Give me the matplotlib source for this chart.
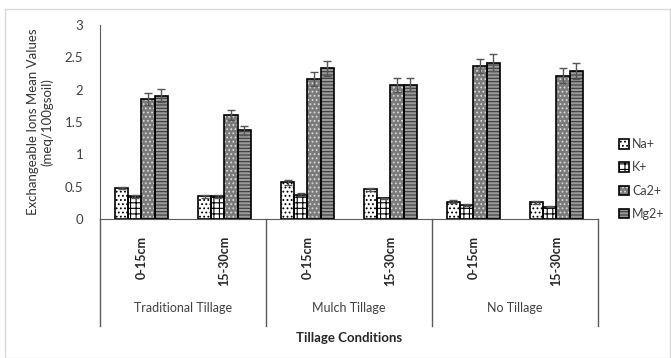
import numpy as np
import matplotlib.pyplot as plt
from matplotlib.patches import Patch, Rectangle
from matplotlib.legend_handler import HandlerTuple
import matplotlib.transforms as mtransforms

plt.rcParams['font.family'] = ['Lato', 'DejaVu Sans']
plt.rcParams['hatch.linewidth'] = 0.8

depths = ["0-15cm", "15-30cm", "0-15cm", "15-30cm", "0-15cm", "15-30cm"]
groups = ["Traditional Tillage", "Mulch Tillage", "No Tillage"]
ions = ["Na+", "K+", "Ca2+", "Mg2+"]

na = [0.48, 0.35, 0.57, 0.46, 0.27, 0.26]
k = [0.35, 0.35, 0.38, 0.32, 0.22, 0.19]
ca = [1.86, 1.61, 2.17, 2.07, 2.37, 2.22]
mg = [1.91, 1.37, 2.33, 2.08, 2.42, 2.29]

na_err = [0.02, 0.02, 0.04, 0.02, 0.02, 0.02]
k_err = [0.02, 0.02, 0.02, 0.01, 0.01, 0.01]
ca_err = [0.09, 0.08, 0.11, 0.11, 0.11, 0.11]
mg_err = [0.10, 0.07, 0.11, 0.10, 0.13, 0.12]

values = [na, k, ca, mg]
errors = [na_err, k_err, ca_err, mg_err]
faces = ["white", "white", "#7a7a7a", "#9a9a9a"]
hatch_cols = ["black", "black", "#d8d8d8", "#3a3a3a"]
hatches = ["....", "+++", "....", "-----"]

fig = plt.figure(figsize=(6.71, 3.58), dpi=100)
ax = fig.add_axes([0.149, 0.388, 0.742, 0.542])

# light chart-area frame
fig.patches.append(Rectangle((0.008, 0.0), 0.99, 0.975, transform=fig.transFigure,
                             fill=False, edgecolor="#d9d9d9", linewidth=1))

x = np.arange(len(depths))
w = 0.16
for i in range(4):
    pos = x + (i - 1.5) * w
    ax.bar(pos, values[i], w, color=faces[i], edgecolor=hatch_cols[i],
           hatch=hatches[i], linewidth=0, zorder=2)
    ax.bar(pos, values[i], w, fill=False, edgecolor="black", linewidth=1.2, zorder=3)
    ax.errorbar(pos, values[i], yerr=errors[i], fmt="none", ecolor="#555555",
                elinewidth=1, capsize=3, capthick=1, zorder=4)

ax.set_xlim(-0.5, 5.5)
ax.set_ylim(0, 3)
ax.set_yticks([0, 0.5, 1, 1.5, 2, 2.5, 3])
ax.set_yticklabels(["0", "0.5", "1", "1.5", "2", "2.5", "3"])
ax.tick_params(axis="y", length=0, pad=12, labelsize=9.5, labelcolor="#404040")
ax.set_xticks(x)
ax.set_xticklabels(depths, rotation=90, fontsize=9, fontweight="bold", color="#262626")
ax.tick_params(axis="x", length=0, pad=12)

for s in ["top", "right"]:
    ax.spines[s].set_visible(False)
ax.spines["left"].set_color("#595959")
ax.spines["bottom"].set_color("#595959")

trans = mtransforms.blended_transform_factory(ax.transData, ax.transAxes)
for xd in [-0.5, 1.5, 3.5, 5.5]:
    ax.plot([xd, xd], [0, -0.552], transform=trans, color="#595959",
            linewidth=1, clip_on=False)
for j, g in enumerate(groups):
    ax.text(2 * j + 0.5, -0.459, g, transform=trans, ha="center", va="center",
            fontsize=9, color="#404040")

ax.text(0.5, -0.613, "Tillage Conditions", transform=ax.transAxes, ha="center",
        va="center", fontsize=9.5, fontweight="bold", color="#262626")
ax.set_ylabel("Exchangeable Ions Mean Values\n(meq/100gsoil)", fontsize=9.5,
              color="#333333", labelpad=8)

handles = [(Patch(facecolor=faces[i], edgecolor=hatch_cols[i], hatch=hatches[i], linewidth=0),
            Patch(fill=False, edgecolor="black", linewidth=1.2))
           for i in range(4)]
fig.legend(handles, ions, loc="center left", bbox_to_anchor=(0.905, 0.5),
           frameon=False, fontsize=9, handlelength=0.8, handleheight=0.8,
           handletextpad=0.3, labelspacing=0.9, labelcolor="#404040",
           handler_map={tuple: HandlerTuple(ndivide=1)})

fig.savefig("out.png", dpi=100)
